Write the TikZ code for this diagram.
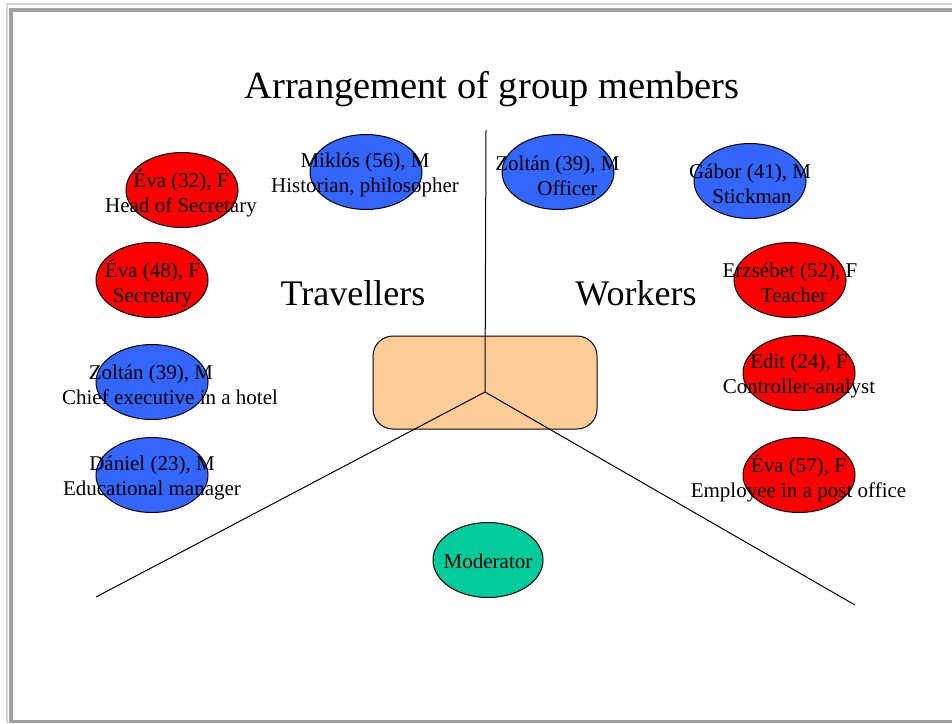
\documentclass[tikz,border=0pt]{standalone}
\usepackage{fontspec}
\setmainfont{Liberation Serif}
\newfontfamily\tnr{Liberation Serif}
\usetikzlibrary{shapes.geometric}
\definecolor{pred}{HTML}{FF0000}
\definecolor{pblue}{HTML}{3366FF}
\definecolor{peach}{HTML}{FFCC99}
\definecolor{teal2}{HTML}{00CC99}
\definecolor{frameA}{HTML}{A0A0A0}
\definecolor{frameB}{HTML}{D4D4D4}
\tikzset{
  person/.style={ellipse, draw=black, line width=1pt, minimum width=112pt, minimum height=75pt, inner sep=0pt},
  female/.style={person, fill=pred},
  male/.style={person, fill=pblue},
  ptext/.style={align=center, inner sep=0pt, font=\tnr\fontsize{21}{25}\selectfont},
  bigtext/.style={inner sep=0pt, anchor=base, font=\tnr\fontsize{36}{42}\selectfont},
  conn/.style={draw=black, line width=1pt},
}
\begin{document}
\begin{tikzpicture}[x=1pt,y=-1pt]
\useasboundingbox (0,0) rectangle (952,723);
% frame
\fill[white] (0,0) rectangle (952,723);
\draw[frameB, line width=1.5pt] (7,723) -- (7,4) -- (952,4);
\fill[frameA] (9,8) rectangle (13,723);
\fill[frameA] (9,8) rectangle (952,11.5);
\fill[frameA] (9,720) rectangle (952,723);

% title
\node[inner sep=0pt, anchor=base, font=\tnr\fontsize{38.5}{44}\selectfont] (title) at (492,98) {Arrangement of group members};

% central box
\node[draw=black, line width=1pt, fill=peach, rounded corners=20pt, minimum width=224pt, minimum height=93pt, inner sep=0pt] (box) at (485,382.5) {};

% lines
\coordinate (hub) at (485,392);
\coordinate (topend) at (486,130);
\coordinate (leftend) at (96,597);
\coordinate (rightend) at (855,605);
\draw[conn] (topend) -- (hub);
\draw[conn] (hub) -- (leftend);
\draw[conn] (hub) -- (rightend);

% group labels
\node[bigtext] (trav) at (353,305) {Travellers};
\node[bigtext] (work) at (636,305) {Workers};

% travellers
\node[female] (e1) at (182,190) {};
\node[ptext] (t1) at (181,193) {Éva (32), F\\Head of Secretary};
\node[male] (e2) at (366,172) {};
\node[ptext] (t2) at (365,175) {Miklós (56), M\\Historian, philosopher};
\node[female] (e3) at (152,280) {};
\node[ptext] (t3) at (152.5,283) {Éva (48), F\\Secretary};
\node[male] (e4) at (152,382) {};
\node[ptext] (t4) at (151,385) {Zoltán (39), M\\\hspace*{38pt}Chief executive in a hotel};
\node[male] (e5) at (152,475) {};
\node[ptext] (t5) at (152,478) {Dániel (23), M\\Educational manager};

% workers
\node[male] (e6) at (558,172) {};
\node[ptext] (t6) at (557.5,176) {Zoltán (39), M\\\hspace*{20pt}Officer};
\node[male] (e7) at (750,181) {};
\node[ptext] (t7) at (750,184) {Gábor (41), M\\\hspace*{4pt}Stickman};
\node[female] (e8) at (790,280) {};
\node[ptext] (t8) at (790,283) {Erzsébet (52), F\\\hspace*{8pt}Teacher};
\node[female] (e9) at (799,373) {};
\node[ptext] (t9) at (799,376) {Edit (24), F\\Controller-analyst};
\node[female] (e10) at (799,475) {};
\node[ptext] (t10) at (798.5,478) {Éva (57), F\\Employee in a post office};

% moderator
\node[person, fill=teal2, minimum width=110pt] (mod) at (488,560) {};
\node[ptext] (modt) at (488,561) {Moderator};
\end{tikzpicture}
\end{document}
